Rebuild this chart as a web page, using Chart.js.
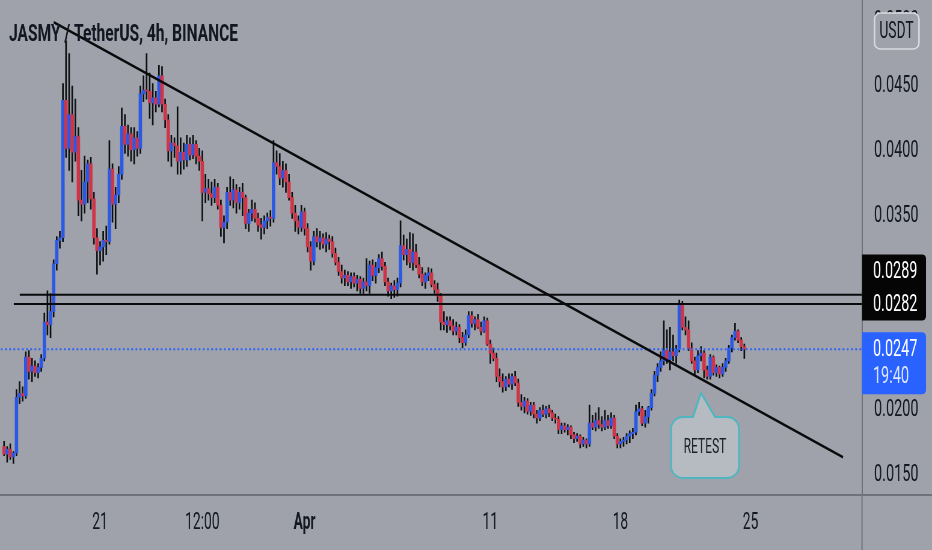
<!DOCTYPE html>
<html><head><meta charset="utf-8">
<script src="https://cdn.jsdelivr.net/npm/chart.js@4.4.1/dist/chart.umd.min.js"></script>
<style>
html,body{margin:0;padding:0;overflow:hidden;background:#9fa2aa;width:932px;height:550px}
#wrap{position:absolute;left:0;top:0;width:1550px;height:550px;transform:scaleX(0.6012903);transform-origin:0 0}
</style></head>
<body><div id="wrap"><canvas id="c"></canvas></div>
<script>
// ---- data (JASMY / USDT, 4h candles, from Mar 15 20:00; x unit = day of March, Apr 1 = 32) ----
const title = 'JASMY / TetherUS, 4h, BINANCE';
const startDay = 15 + 20/24;
const barHours = 4;
const opens = [
.0172,.0166,.0170,.0164,.0167,.0210,.0213,.0211,.0241,.0230,.0234,.0229,
.0233,.0240,.0268,.0266,.0276,.0313,.0331,.0333,.0439,.0402,.0428,.0399,
.0411,.0362,.0359,.0376,.0390,.0363,.0333,.0323,.0326,.0331,.0330,.0386,
.0359,.0366,.0382,.0419,.0405,.0413,.0401,.0410,.0402,.0444,.0447,.0446,
.0437,.0441,.0436,.0458,.0436,.0424,.0400,.0406,.0404,.0392,.0399,.0393,
.0405,.0397,.0405,.0396,.0392,.0368,.0371,.0367,.0364,.0372,.0358,.0341,
.0345,.0368,.0362,.0370,.0360,.0368,.0364,.0344,.0352,.0355,.0348,.0343,
.0341,.0346,.0349,.0348,.0391,.0388,.0379,.0385,.0376,.0364,.0352,.0346,
.0341,.0353,.0340,.0326,.0315,.0334,.0330,.0333,.0328,.0332,.0330,.0321,
.0314,.0307,.0302,.0304,.0299,.0303,.0298,.0301,.0294,.0299,.0296,.0312,
.0304,.0310,.0317,.0311,.0299,.0292,.0296,.0293,.0298,.0327,.0320,.0324,
.0314,.0322,.0312,.0305,.0299,.0304,.0306,.0297,.0293,.0288,.0268,.0266,
.0269,.0265,.0261,.0264,.0256,.0252,.0258,.0273,.0267,.0270,.0264,.0261,
.0269,.0251,.0244,.0240,.0226,.0222,.0218,.0224,.0220,.0226,.0221,.0206,
.0203,.0207,.0199,.0204,.0197,.0194,.0200,.0197,.0201,.0198,.0194,.0193,
.0185,.0188,.0185,.0187,.0181,.0178,.0180,.0174,.0177,.0174,.0190,.0187,
.0192,.0189,.0187,.0192,.0188,.0194,.0180,.0174,.0176,.0177,.0180,.0182,
.0183,.0199,.0201,.0190,.0195,.0202,.0213,.0227,.0233,.0238,.0246,.0239,
.0245,.0242,.0247,.0282,.0264,.0262,.0248,.0238,.0231,.0242,.0244,.0231,
.0226,.0241,.0229,.0233,.0228,.0233,.0238,.0248,.0256,.0261,.0254,.0249];
const highs = [
.0176,.0172,.0174,.0168,.0216,.0222,.0218,.0245,.0246,.0240,.0238,.0236,
.0243,.0275,.0292,.0290,.0316,.0334,.0338,.0452,.0485,.0475,.0450,.0440,
.0418,.0385,.0396,.0393,.0395,.0368,.0340,.0330,.0338,.0342,.0408,.0390,
.0372,.0388,.0433,.0428,.0420,.0418,.0418,.0415,.0450,.0458,.0475,.0460,
.0452,.0446,.0466,.0465,.0440,.0428,.0412,.0410,.0434,.0410,.0406,.0412,
.0410,.0412,.0408,.0402,.0400,.0382,.0378,.0376,.0378,.0375,.0362,.0350,
.0372,.0380,.0378,.0374,.0372,.0375,.0366,.0355,.0362,.0360,.0352,.0348,
.0350,.0352,.0354,.0408,.0400,.0398,.0392,.0390,.0382,.0368,.0358,.0350,
.0358,.0356,.0344,.0330,.0338,.0340,.0338,.0336,.0337,.0335,.0334,.0325,
.0318,.0312,.0308,.0307,.0306,.0306,.0304,.0303,.0302,.0317,.0315,.0316,
.0314,.0320,.0322,.0314,.0302,.0298,.0300,.0302,.0346,.0335,.0332,.0337,
.0336,.0328,.0318,.0310,.0306,.0310,.0309,.0300,.0298,.0290,.0276,.0272,
.0272,.0270,.0268,.0266,.0260,.0262,.0276,.0276,.0272,.0274,.0268,.0272,
.0271,.0254,.0248,.0244,.0232,.0228,.0226,.0228,.0228,.0230,.0224,.0212,
.0210,.0209,.0206,.0206,.0200,.0202,.0204,.0203,.0204,.0200,.0197,.0195,
.0190,.0190,.0189,.0188,.0183,.0182,.0181,.0179,.0178,.0204,.0196,.0198,
.0202,.0195,.0200,.0196,.0198,.0196,.0182,.0178,.0179,.0182,.0184,.0186,
.0204,.0206,.0203,.0200,.0203,.0216,.0230,.0236,.0245,.0269,.0262,.0264,
.0258,.0250,.0285,.0284,.0272,.0269,.0252,.0241,.0246,.0249,.0246,.0234,
.0243,.0242,.0235,.0234,.0236,.0240,.0250,.0258,.0267,.0262,.0256,.0251];
const lows = [
.0165,.0160,.0162,.0159,.0165,.0205,.0207,.0209,.0224,.0222,.0226,.0225,
.0230,.0238,.0258,.0256,.0272,.0308,.0325,.0330,.0395,.0385,.0376,.0392,
.0350,.0346,.0352,.0360,.0355,.0328,.0305,.0312,.0315,.0320,.0328,.0345,
.0340,.0360,.0378,.0398,.0396,.0392,.0390,.0396,.0398,.0438,.0440,.0425,
.0420,.0430,.0434,.0430,.0418,.0392,.0388,.0395,.0382,.0382,.0386,.0388,
.0393,.0394,.0390,.0385,.0346,.0360,.0362,.0358,.0360,.0355,.0334,.0329,
.0340,.0358,.0356,.0352,.0355,.0350,.0340,.0338,.0346,.0345,.0338,.0332,
.0336,.0340,.0342,.0345,.0382,.0374,.0372,.0368,.0362,.0348,.0338,.0336,
.0338,.0335,.0322,.0308,.0312,.0326,.0324,.0325,.0322,.0324,.0318,.0312,
.0304,.0298,.0296,.0296,.0294,.0295,.0292,.0290,.0290,.0292,.0290,.0300,
.0298,.0306,.0308,.0296,.0288,.0286,.0287,.0288,.0295,.0316,.0312,.0310,
.0308,.0310,.0302,.0296,.0294,.0300,.0295,.0290,.0284,.0262,.0262,.0260,
.0262,.0258,.0258,.0252,.0248,.0250,.0256,.0264,.0262,.0263,.0258,.0260,
.0250,.0236,.0238,.0222,.0218,.0214,.0215,.0218,.0216,.0219,.0203,.0200,
.0198,.0197,.0196,.0194,.0190,.0192,.0195,.0194,.0195,.0192,.0190,.0182,
.0182,.0183,.0181,.0178,.0175,.0176,.0171,.0172,.0171,.0172,.0185,.0184,
.0186,.0184,.0185,.0186,.0186,.0178,.0171,.0171,.0172,.0174,.0175,.0178,
.0181,.0196,.0188,.0187,.0190,.0200,.0211,.0222,.0230,.0235,.0236,.0231,
.0238,.0236,.0245,.0262,.0258,.0246,.0236,.0227,.0229,.0238,.0225,.0224,
.0224,.0227,.0226,.0225,.0226,.0230,.0236,.0245,.0254,.0252,.0246,.0240];
const closes = [
.0166,.0170,.0164,.0167,.0210,.0213,.0211,.0241,.0230,.0234,.0229,.0233,
.0240,.0268,.0266,.0276,.0313,.0331,.0333,.0439,.0402,.0428,.0399,.0411,
.0362,.0359,.0376,.0390,.0363,.0333,.0323,.0326,.0331,.0330,.0386,.0359,
.0366,.0382,.0419,.0405,.0413,.0401,.0410,.0402,.0444,.0447,.0446,.0437,
.0441,.0436,.0458,.0436,.0424,.0400,.0406,.0404,.0392,.0399,.0393,.0405,
.0397,.0405,.0396,.0392,.0368,.0371,.0367,.0364,.0372,.0358,.0341,.0345,
.0368,.0362,.0370,.0360,.0368,.0364,.0344,.0352,.0355,.0348,.0343,.0341,
.0346,.0349,.0348,.0391,.0388,.0379,.0385,.0376,.0364,.0352,.0346,.0341,
.0353,.0340,.0326,.0315,.0334,.0330,.0333,.0328,.0332,.0330,.0321,.0314,
.0307,.0302,.0304,.0299,.0303,.0298,.0301,.0294,.0299,.0296,.0312,.0304,
.0310,.0317,.0311,.0299,.0292,.0296,.0293,.0298,.0327,.0320,.0324,.0314,
.0322,.0312,.0305,.0299,.0304,.0306,.0297,.0293,.0288,.0268,.0266,.0269,
.0265,.0261,.0264,.0256,.0252,.0258,.0273,.0267,.0270,.0264,.0261,.0269,
.0251,.0244,.0240,.0226,.0222,.0218,.0224,.0220,.0226,.0221,.0206,.0203,
.0207,.0199,.0204,.0197,.0194,.0200,.0197,.0201,.0198,.0194,.0193,.0185,
.0188,.0185,.0187,.0181,.0178,.0180,.0174,.0177,.0174,.0190,.0187,.0192,
.0189,.0187,.0192,.0188,.0194,.0180,.0174,.0176,.0177,.0180,.0182,.0183,
.0199,.0201,.0190,.0195,.0202,.0213,.0227,.0233,.0238,.0246,.0239,.0245,
.0242,.0247,.0282,.0264,.0262,.0248,.0238,.0231,.0242,.0244,.0231,.0226,
.0241,.0229,.0233,.0228,.0233,.0238,.0248,.0256,.0261,.0254,.0249,.0247];

const xTickValues = [21, 26.5, 32, 42, 49, 56];
const xTickLabels = ['21', '12:00', 'Apr', '11', '18', '25'];
const yTickValues = [0.015, 0.02, 0.025, 0.03, 0.035, 0.04, 0.045, 0.05];
const xMin = 15.656, xMax = 62.0;
const yMin = 0.01346, yMax = 0.05154;
const levelHigh = 0.0289, levelLow = 0.0282, lastPrice = 0.0247;
const levelHighStart = 16.677, levelLowStart = 16.355;
const trendStart = {x: 18.505, y: 0.04992};
const trendEnd = {x: 60.98, y: 0.01638};
const countdown = '19:40';
const callout = 'RETEST';
const quote = 'USDT';

// ---- styling ----
const SQ = 932 / 1550;          // horizontal squeeze applied by CSS
const BG = '#9fa2aa';
const AXIS = '#6f727b';
const TXT = '#131722';
const UP = '#2b59e4', DOWN = '#cf3546', WICK = '#0e0f12';

const candleX = closes.map((_, i) => startDay + i * barHours / 24);
const bodyColors = closes.map((c, i) => c >= opens[i] ? UP : DOWN);

Chart.defaults.font.family = 'Roboto';

const overlay = {
  id: 'overlay',
  afterDraw(chart) {
    const ctx = chart.ctx, ys = chart.scales.y, ca = chart.chartArea;
    const k = 1 / SQ;
    const axL = ca.right * SQ;           // axis left edge, screen px
    const yp = v => ys.getPixelForValue(v);
    ctx.save();
    ctx.scale(k, 1);                     // draw shapes in screen px
    ctx.strokeStyle = AXIS; ctx.lineWidth = 1.2;
    ctx.beginPath(); ctx.moveTo(axL, ca.bottom); ctx.lineTo(axL, 550); ctx.stroke();
    ctx.lineWidth = 2;
    ctx.beginPath(); ctx.moveTo(axL, ca.bottom); ctx.lineTo(932, ca.bottom); ctx.stroke();
    const h = 33;
    const b2t = yp(levelLow) - h / 2, b1t = b2t - h;
    ctx.fillStyle = '#050505';
    ctx.beginPath(); ctx.roundRect(axL, b1t, 926 - axL, 2 * h, [0, 4, 4, 0]); ctx.fill();
    const lp = yp(lastPrice);
    ctx.fillStyle = '#2962ff';
    ctx.beginPath(); ctx.roundRect(axL, lp - 17, 926 - axL, 62, [0, 4, 4, 0]); ctx.fill();
    ctx.fillStyle = BG; ctx.strokeStyle = '#d9dce2'; ctx.lineWidth = 1.5;
    ctx.beginPath(); ctx.roundRect(874.5, 13, 44.5, 36, 6); ctx.fill(); ctx.stroke();
    const L = 671, R = 739, T = 417, B = 478, r = 12;
    ctx.beginPath();
    ctx.moveTo(L + r, T); ctx.lineTo(693, T); ctx.lineTo(701, 393); ctx.lineTo(715, T);
    ctx.lineTo(R - r, T); ctx.arcTo(R, T, R, T + r, r);
    ctx.lineTo(R, B - r); ctx.arcTo(R, B, R - r, B, r);
    ctx.lineTo(L + r, B); ctx.arcTo(L, B, L, B - r, r);
    ctx.lineTo(L, T + r); ctx.arcTo(L, T, L + r, T, r);
    ctx.closePath();
    ctx.fillStyle = 'rgba(214,221,228,0.42)'; ctx.fill();
    ctx.strokeStyle = '#4db6bf'; ctx.lineWidth = 1.8; ctx.stroke();
    ctx.restore();

    ctx.save();
    ctx.textBaseline = 'middle'; ctx.textAlign = 'left';
    ctx.font = '24px Roboto';
    ctx.fillStyle = '#ffffff';
    ctx.fillText(levelHigh.toFixed(4), 873 * k, b1t + h / 2 + 1);
    ctx.fillText(levelLow.toFixed(4), 873 * k, b2t + h / 2 + 1);
    ctx.fillText(lastPrice.toFixed(4), 873 * k, lp + 1);
    ctx.fillStyle = 'rgba(255,255,255,0.85)';
    ctx.fillText(countdown, 873 * k, lp + 28);
    ctx.textAlign = 'center';
    ctx.fillStyle = TXT; ctx.font = '23px Roboto';
    ctx.fillText(quote, 896.5 * k, 32);
    ctx.fillStyle = '#1c1f26'; ctx.font = '20px Roboto';
    ctx.fillText(callout, 705 * k, 448);
    ctx.textAlign = 'left'; ctx.textBaseline = 'alphabetic';
    ctx.font = 'bold 23px Roboto'; ctx.fillStyle = TXT;
    const w = ctx.measureText(title).width;
    ctx.translate(9 * k, 40.5);
    ctx.scale((229 * k) / w, 1);
    ctx.fillText(title, 0, 0);
    ctx.restore();
  }
};

new Chart(document.getElementById('c'), {
  type: 'bar',
  data: {
    datasets: [
      {type: 'line', label: 'trend', data: [trendStart, trendEnd], borderColor: '#0a0a0c', borderWidth: 2.6, pointRadius: 0, order: 1},
      {type: 'line', label: 'level high', data: [{x: levelHighStart, y: levelHigh}, {x: xMax, y: levelHigh}], borderColor: '#0a0a0c', borderWidth: 2, pointRadius: 0, order: 1},
      {type: 'line', label: 'level low', data: [{x: levelLowStart, y: levelLow}, {x: xMax, y: levelLow}], borderColor: '#0a0a0c', borderWidth: 2, pointRadius: 0, order: 1},
      {type: 'line', label: 'last', data: [{x: xMin, y: lastPrice}, {x: xMax, y: lastPrice}], borderColor: '#2962ff', borderWidth: 2, borderDash: [3, 4], pointRadius: 0, order: 2},
      {label: 'bodies', data: candleX.map((x, i) => ({x, y: [opens[i], closes[i]]})), backgroundColor: bodyColors, barThickness: 5, grouped: false, order: 3},
      {label: 'wicks', data: candleX.map((x, i) => ({x, y: [lows[i], highs[i]]})), backgroundColor: WICK, barThickness: 2, grouped: false, order: 4}
    ]
  },
  options: {
    responsive: true, maintainAspectRatio: false, animation: false, events: [],
    layout: {padding: 0},
    plugins: {legend: {display: false}, tooltip: {enabled: false}},
    scales: {
      x: {
        type: 'linear', min: xMin, max: xMax, offset: false,
        grid: {display: false, drawTicks: false},
        border: {display: true, color: AXIS, width: 2},
        afterBuildTicks(s) { s.ticks = xTickValues.map(v => ({value: v})); },
        afterFit(s) { s.height = 55; s.paddingLeft = 0; s.paddingRight = 0; },
        ticks: {
          autoSkip: false, maxRotation: 0, minRotation: 0, padding: 14, color: TXT,
          font: c => ({family: 'Roboto', size: 23, weight: (c.tick && c.tick.value === 32) ? 'bold' : 'normal'}),
          callback: (v, i) => xTickLabels[i]
        }
      },
      y: {
        type: 'linear', position: 'right', min: yMin, max: yMax,
        grid: {display: false, drawTicks: false},
        border: {display: true, color: AXIS, width: 2},
        afterBuildTicks(s) { s.ticks = yTickValues.map(v => ({value: v})); },
        afterFit(s) { s.width = 116.4; s.paddingTop = 0; s.paddingBottom = 0; },
        ticks: {padding: 20, color: TXT, font: {family: 'Roboto', size: 24}, callback: v => v.toFixed(4)}
      }
    }
  },
  plugins: [overlay]
});
</script>
</body></html>
